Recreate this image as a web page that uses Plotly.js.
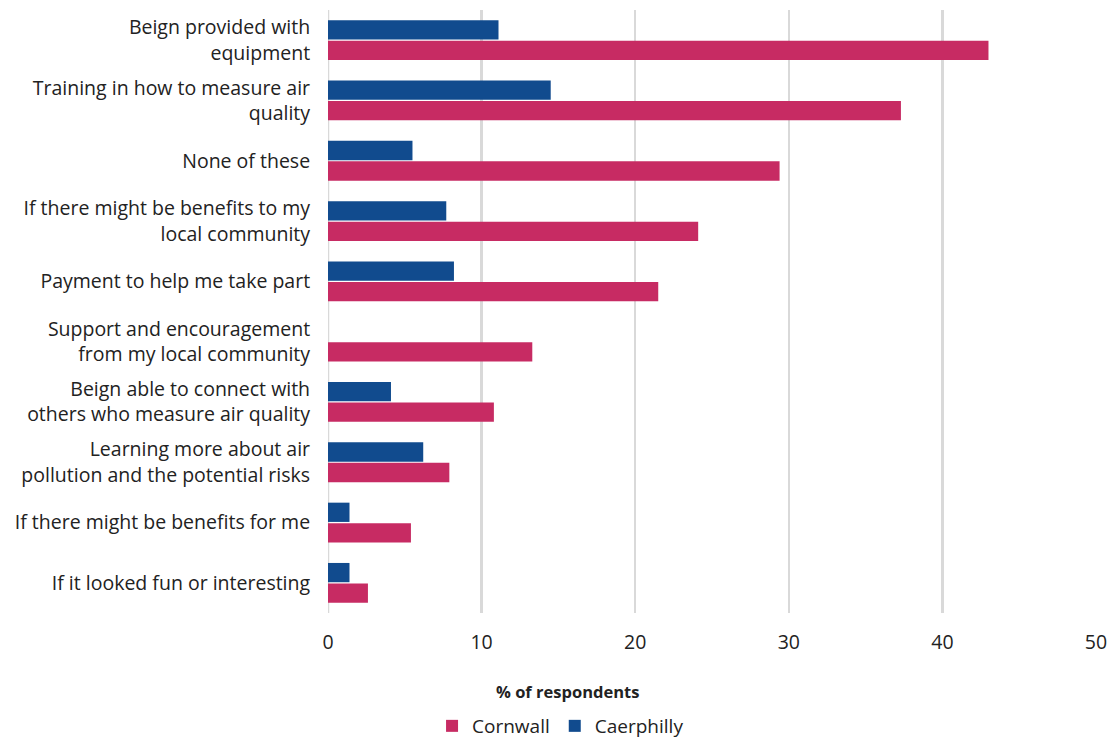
<!DOCTYPE html>
<html>
<head>
<meta charset="utf-8">
<script src="https://cdn.plot.ly/plotly-3.0.1.min.js"></script>
<style>html,body{margin:0;padding:0;background:#fff;}#chart{width:1110px;height:742px;}</style>
</head>
<body>
<div id="chart"></div>
<script>
const categories = [
  "Beign provided with<br>equipment",
  "Training in how to measure air<br>quality",
  "None of these",
  "If there might be benefits to my<br>local community",
  "Payment to help me take part",
  "Support and encouragement<br>from my local community",
  "Beign able to connect with<br>others who measure air quality",
  "Learning more about air<br>pollution and the potential risks",
  "If there might be benefits for me",
  "If it looked fun or interesting"
];
const cornwall = [43.0, 37.3, 29.4, 24.1, 21.5, 13.3, 10.8, 7.9, 5.4, 2.6];
const caerphilly = [11.1, 14.5, 5.5, 7.7, 8.2, null, 4.1, 6.2, 1.4, 1.4];
const xTicks = [0, 10, 20, 30, 40, 50];
const xTitle = '% of respondents';

const FONT = "'Open Sans', 'Noto Sans', sans-serif";
const traces = [
  {type:'bar', orientation:'h', name:'Caerphilly', y:categories, x:caerphilly,
   marker:{color:'#114b8e'}},
  {type:'bar', orientation:'h', name:'Cornwall', y:categories, x:cornwall,
   marker:{color:'#c72b63'}}
];
const layout = {
  width:1110, height:742,
  margin:{l:328, r:14, t:10, b:129},
  barmode:'group', bargap:0.32, bargroupgap:0.06,
  font:{family:FONT, size:19.5, color:'#222'},
  paper_bgcolor:'#fff', plot_bgcolor:'#fff',
  xaxis:{range:[0,50], tickvals:xTicks, ticktext:xTicks.map(String),
         showgrid:true, gridcolor:'#d9d9d9', gridwidth:2.5, zeroline:false,
         showline:false, ticks:'outside', ticklen:12, tickcolor:'rgba(0,0,0,0)',
         tickfont:{size:19.5, color:'#222'}},
  yaxis:{autorange:'reversed', type:'category', ticks:'outside', ticklen:13,
         tickcolor:'rgba(0,0,0,0)', tickfont:{size:19.5, color:'#222'}, showgrid:false},
  annotations:[{text:'<b>'+xTitle+'</b>', xref:'paper', yref:'paper',
                x:(567-328)/768, y:-(691-613)/603, xanchor:'center', yanchor:'middle',
                showarrow:false, font:{size:16.5, color:'#222'}}],
  shapes:[{type:'line', xref:'x', yref:'paper', x0:0, x1:0, y0:0, y1:1,
           line:{color:'#d9d9d9', width:2.5}, layer:'below'}],
  showlegend:true,
  legend:{orientation:'h', traceorder:'reversed', xref:'container', x:0.505, xanchor:'center',
          yref:'container', y:(742-726)/742, yanchor:'middle', font:{size:19, color:'#222'},
          itemwidth:30},
  hovermode:false
};
Plotly.newPlot('chart', traces, layout, {displayModeBar:false, staticPlot:true});
</script>
</body>
</html>
